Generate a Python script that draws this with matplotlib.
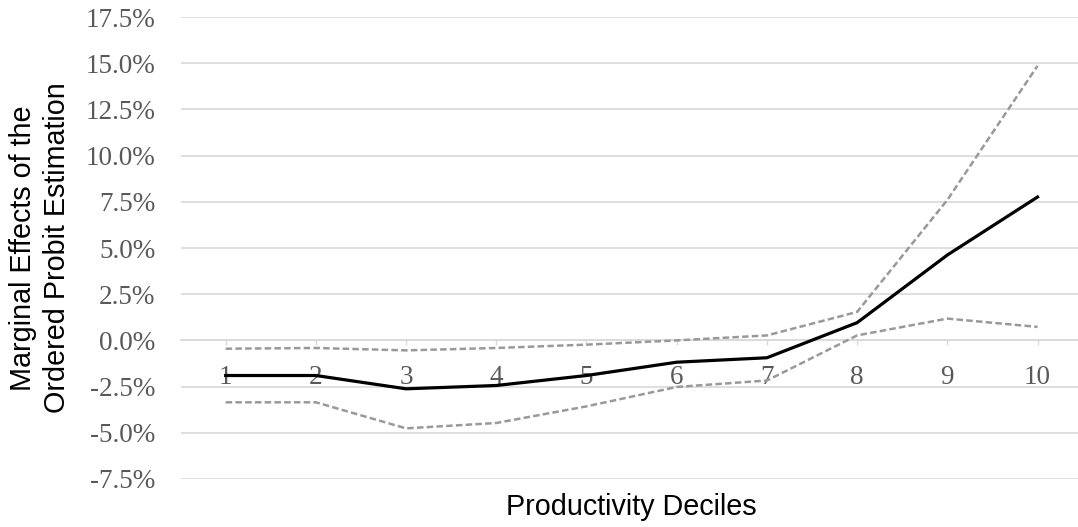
import matplotlib.pyplot as plt
import matplotlib.ticker as mtick

# productivity deciles and marginal effects (%)
deciles = [1, 2, 3, 4, 5, 6, 7, 8, 9, 10]
effect = [-1.90, -1.90, -2.62, -2.44, -1.90, -1.18, -0.94, 0.96, 4.62, 7.76]
upper = [-0.45, -0.41, -0.54, -0.41, -0.23, 0.00, 0.27, 1.54, 7.60, 14.86]
lower = [-3.35, -3.35, -4.76, -4.47, -3.57, -2.52, -2.17, 0.27, 1.18, 0.73]

grid_c = '#d9d9d9'
dash_c = '#999999'
lab_c = '#595959'

fig = plt.figure(figsize=(10.78, 5.27), dpi=100)
ax = fig.add_axes([0.1675, 0.0911, 0.8368, 0.8766])

ax.plot(deciles, upper, color=dash_c, lw=1.8, dashes=(2.6, 1.3), solid_capstyle='butt')
ax.plot(deciles, lower, color=dash_c, lw=1.8, dashes=(2.6, 1.3), solid_capstyle='butt')
ax.plot(deciles, effect, color='black', lw=2.3, solid_joinstyle='round')

ax.set_xlim(0.5, 10.5)
ax.set_ylim(-7.5, 17.5)
ax.set_yticks([-7.5 + 2.5 * i for i in range(11)])
ax.yaxis.set_major_formatter(mtick.FuncFormatter(lambda v, p: '%.1f%%' % v))
ax.set_xticks(deciles)
ax.set_xticklabels([str(d) for d in deciles])

ax.grid(axis='y', color=grid_c, lw=1.2)
ax.set_axisbelow(True)
for s in ['top', 'right', 'left', 'bottom']:
    ax.spines[s].set_visible(False)
ax.spines['bottom'].set_visible(True)
ax.spines['bottom'].set_position(('data', 0))
ax.spines['bottom'].set_color(grid_c)
ax.spines['bottom'].set_linewidth(1.2)
ax.spines['bottom'].set_zorder(0.5)

ax.tick_params(axis='y', length=0, pad=18, labelsize=19.5, labelcolor=lab_c)
ax.tick_params(axis='x', length=3.6, width=1, color=grid_c, direction='out',
               pad=14, labelsize=19.5, labelcolor=lab_c)
for t in ax.get_xticklabels() + ax.get_yticklabels():
    t.set_fontfamily('Liberation Serif')

ax.set_ylabel('Marginal Effects of the\nOrdered Probit Estimation', fontsize=20.7,
              family='Liberation Sans', linespacing=1.3)
ax.set_xlabel('Productivity Deciles', fontsize=20.7, family='Liberation Sans')
ax.xaxis.set_label_coords(0.5, -0.031)
ax.yaxis.set_label_coords(-0.121, 0.5)

plt.savefig('out.png', dpi=100)
